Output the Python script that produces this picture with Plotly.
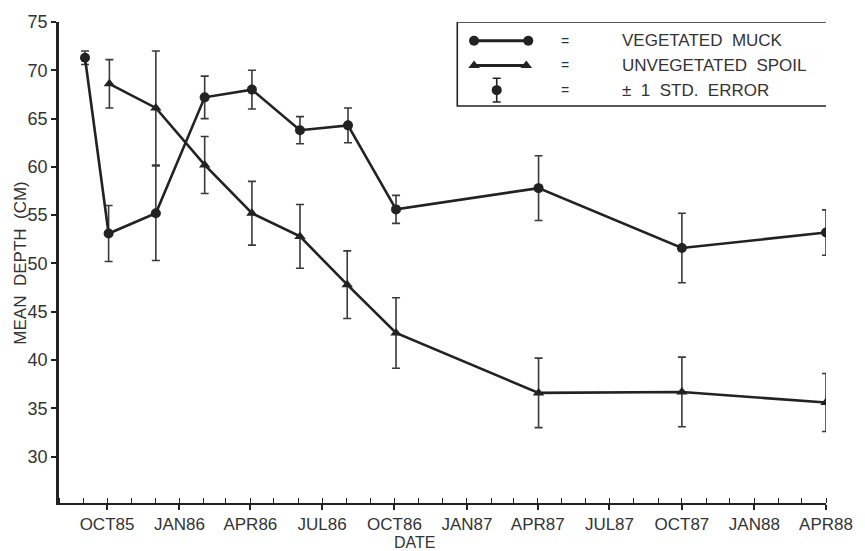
import plotly.graph_objects as go

# ---- data ----
muck_dates = ["1985-09-03", "1985-10-03", "1985-12-02", "1986-02-02", "1986-04-03",
              "1986-06-03", "1986-08-03", "1986-10-03", "1987-04-02", "1987-10-01", "1988-04-01"]
muck_mean = [71.3, 53.1, 55.2, 67.2, 68.0, 63.8, 64.3, 55.6, 57.8, 51.6, 53.2]
muck_se = [0.7, 2.9, 4.9, 2.2, 2.0, 1.4, 1.8, 1.45, 3.35, 3.6, 2.35]

spoil_dates = ["1985-10-04", "1985-12-02", "1986-02-02", "1986-04-03", "1986-06-03",
               "1986-08-02", "1986-10-03", "1987-04-02", "1987-10-01", "1988-04-01"]
spoil_mean = [68.6, 66.1, 60.2, 55.2, 52.8, 47.8, 42.8, 36.6, 36.7, 35.6]
spoil_se = [2.5, 5.9, 2.95, 3.3, 3.3, 3.5, 3.65, 3.6, 3.6, 3.0]

tick_dates = ["1985-10-01", "1986-01-01", "1986-04-01", "1986-07-01", "1986-10-01",
              "1987-01-01", "1987-04-01", "1987-07-01", "1987-10-01", "1988-01-01", "1988-04-01"]
tick_labels = ["OCT85", "JAN86", "APR86", "JUL86", "OCT86", "JAN87", "APR87",
               "JUL87", "OCT87", "JAN88", "APR88"]
y_ticks = [30, 35, 40, 45, 50, 55, 60, 65, 70, 75]

legend_labels = ["VEGETATED  MUCK", "UNVEGETATED  SPOIL", "±  1  STD.  ERROR"]

INK = "#222222"
TXT = "#333333"
FONT = "Liberation Sans, Arial, sans-serif"

fig = go.Figure()

fig.add_trace(go.Scatter(
    x=muck_dates, y=muck_mean, mode="lines+markers", name="VEGETATED MUCK",
    line=dict(color=INK, width=2.6),
    marker=dict(symbol="circle", size=10, color=INK),
    error_y=dict(type="data", array=muck_se, color="#3a3a3a", thickness=1.6, width=4),
    showlegend=False,
))
fig.add_trace(go.Scatter(
    x=spoil_dates, y=spoil_mean, mode="lines+markers", name="UNVEGETATED SPOIL",
    line=dict(color=INK, width=2.6),
    marker=dict(symbol="triangle-up", size=10, color=INK),
    error_y=dict(type="data", array=spoil_se, color="#3a3a3a", thickness=1.6, width=4),
    showlegend=False,
))

# ---- custom legend drawn on an overlay axis in pixel-like units ----
fig.add_trace(go.Scatter(
    x=[480, 535], y=[35, 35], mode="lines+markers", xaxis="x2", yaxis="y2",
    line=dict(color=INK, width=3), marker=dict(symbol="circle", size=10, color=INK),
    showlegend=False, hoverinfo="skip"))
fig.add_trace(go.Scatter(
    x=[480, 533], y=[60, 60], mode="lines+markers", xaxis="x2", yaxis="y2",
    line=dict(color=INK, width=3), marker=dict(symbol="triangle-up", size=10, color=INK),
    showlegend=False, hoverinfo="skip"))
fig.add_trace(go.Scatter(
    x=[503], y=[85], mode="markers", xaxis="x2", yaxis="y2",
    marker=dict(symbol="circle", size=10, color=INK),
    error_y=dict(type="constant", value=12, color=INK, thickness=1.6, width=4),
    showlegend=False, hoverinfo="skip"))

annotations = []
for row_y, lab in zip([35, 60, 85], legend_labels):
    annotations.append(dict(x=572, y=row_y, xref="x2", yref="y2", text="=", showarrow=False,
                            font=dict(size=14, color=TXT, family=FONT)))
    annotations.append(dict(x=628, y=row_y, xref="x2", yref="y2", text=lab, showarrow=False,
                            xanchor="left", font=dict(size=17, color=TXT, family=FONT)))

annotations.append(dict(x=0.463, y=-0.082, xref="paper", yref="paper", text="DATE",
                        showarrow=False, xanchor="center", yanchor="middle",
                        font=dict(size=16, color=TXT, family=FONT)))
annotations.append(dict(x=-0.050, y=0.499, xref="paper", yref="paper", text="MEAN  DEPTH  (CM)",
                        showarrow=False, textangle=-90, xanchor="center", yanchor="middle",
                        font=dict(size=17, color=TXT, family=FONT)))

fig.update_layout(
    width=865, height=551,
    margin=dict(l=59, r=28, t=16, b=48),
    paper_bgcolor="white", plot_bgcolor="white",
    font=dict(family=FONT, color=TXT, size=16),
    annotations=annotations,
    shapes=[dict(type="rect", xref="x2", yref="y2", x0=463, x1=838, y0=16, y1=101,
                 line=dict(color=INK, width=1.6), fillcolor="rgba(0,0,0,0)")],
    xaxis=dict(
        type="date", range=["1985-08-01", "1988-04-01"],
        tickmode="array", tickvals=tick_dates, ticktext=tick_labels,
        ticks="outside", ticklen=5, tickwidth=1.6, tickcolor=INK,
        minor=dict(dtick="M1", tick0="1985-08-01", ticks="inside", ticklen=5,
                   tickwidth=1.3, tickcolor=INK, showgrid=False),
        showline=True, linecolor=INK, linewidth=2,
        showgrid=False, zeroline=False,
        tickfont=dict(size=17, color=TXT, family=FONT),
    ),
    yaxis=dict(
        range=[25.2, 75], tickmode="array", tickvals=y_ticks,
        ticks="outside", ticklen=5, tickwidth=1.6, tickcolor=INK,
        showline=True, linecolor=INK, linewidth=2.5,
        showgrid=False, zeroline=False,
        tickfont=dict(size=18, color=TXT, family=FONT),
    ),
    xaxis2=dict(overlaying="x", range=[59, 837], visible=False, fixedrange=True),
    yaxis2=dict(overlaying="y", range=[503, 16], visible=False, fixedrange=True),
)

fig.write_html("out.html", config={"displayModeBar": False},
               post_script="document.body.style.margin='0';")
